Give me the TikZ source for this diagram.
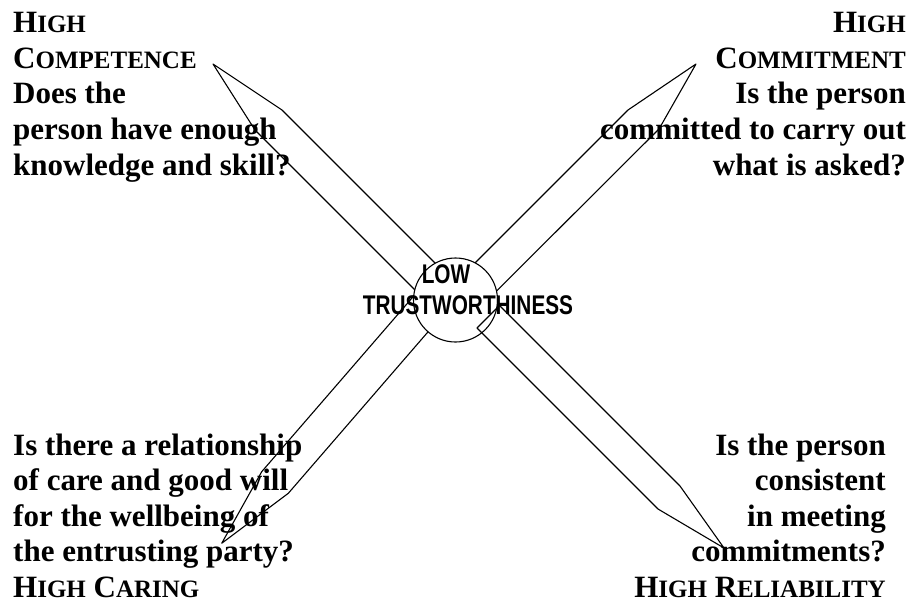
\documentclass[tikz,border=0pt]{standalone}
\usepackage{fontspec}
\setmainfont{Liberation Serif}
\newfontfamily\arialf{Liberation Sans}
\newcommand\fsc[2]{#1{\fontsize{25}{25}\selectfont #2}}
\begin{document}
\begin{tikzpicture}[x=1pt,y=-1pt,
  pencil/.style={draw=black,line width=1.1pt,line join=round},
  lbl/.style={inner sep=0pt,font=\bfseries\fontsize{31}{36}\selectfont},
  lw/.style={lbl,anchor=base west},
  le/.style={lbl,anchor=base east},
  ctext/.style={inner sep=0pt,anchor=base,font=\arialf\bfseries\fontsize{27}{27}\selectfont}]
\useasboundingbox (0,0) rectangle (913,603);
% top-left pencil
\coordinate (tlT) at (213,64);
\coordinate (tlA) at (282,110);
\coordinate (tlB) at (450,278);
\coordinate (tlC) at (426.5,301.5);
\coordinate (tlD) at (255,130);
\draw[pencil] (tlT) -- (tlA) -- (tlB) -- (tlC) -- (tlD) -- cycle;
% top-right pencil
\coordinate (trT) at (696,64);
\coordinate (trA) at (628,110);
\coordinate (trB) at (455,283);
\coordinate (trC) at (479.75,307.75);
\coordinate (trD) at (659,129);
\draw[pencil] (trT) -- (trA) -- (trB) -- (trC) -- (trD) -- cycle;
% bottom-left pencil
\coordinate (blT) at (221.7,543.3);
\coordinate (blA) at (261.7,471.7);
\coordinate (blB) at (429.5,277.8);
\coordinate (blC) at (455.4,300.2);
\coordinate (blD) at (288.3,493.3);
\draw[pencil] (blT) -- (blA) -- (blB) -- (blC) -- (blD) -- cycle;
% centre circle
\node[circle,draw,fill=white,line width=1.1pt,minimum size=84pt,inner sep=0pt] (c) at (455.5,300) {};
% bottom-right pencil
\coordinate (brT) at (724,548);
\coordinate (brA) at (680,486);
\coordinate (brB) at (499.5,305.5);
\coordinate (brC) at (477,328);
\coordinate (brD) at (658,509);
\draw[pencil] (brT) -- (brA) -- (brB) -- (brC) -- (brD) -- cycle;
% centre text
\node[ctext] (low) at (446,283) {\scalebox{0.77}[1]{LOW}};
\node[ctext] (trust) at (468,314) {\scalebox{0.77}[1]{TRUSTWORTHINESS}};
% top-left text
\node[lw] (tl1) at (13,32) {\fsc{H}{IGH}};
\node[lw] (tl2) at (13,68) {\fsc{C}{OMPETENCE}};
\node[lw] (tl3) at (13,103.5) {Does the};
\node[lw] (tl4) at (13,139) {person have enough};
\node[lw] (tl5) at (13,175) {knowledge and skill?};
% top-right text
\node[le] (tr1) at (906,32) {\fsc{H}{IGH}};
\node[le] (tr2) at (906,68) {\fsc{C}{OMMITMENT}};
\node[le] (tr3) at (906,103.5) {Is the person};
\node[le] (tr4) at (906,139) {committed to carry out};
\node[le] (tr5) at (906,175) {what is asked?};
% bottom-left text
\node[lw] (bl1) at (13,455) {Is there a relationship};
\node[lw] (bl2) at (13,490.5) {of care and good will};
\node[lw] (bl3) at (13,526) {for the wellbeing of};
\node[lw] (bl4) at (13,561.5) {the entrusting party?};
\node[lw] (bl5) at (13,597) {\fsc{H}{IGH} \fsc{C}{ARING}};
% bottom-right text
\node[le] (br1) at (886,455) {Is the person};
\node[le] (br2) at (886,490.5) {consistent};
\node[le] (br3) at (886,526) {in meeting};
\node[le] (br4) at (886,561.5) {commitments?};
\node[le] (br5) at (886,597) {\fsc{H}{IGH} \fsc{R}{ELIABILITY}};
\end{tikzpicture}
\end{document}
